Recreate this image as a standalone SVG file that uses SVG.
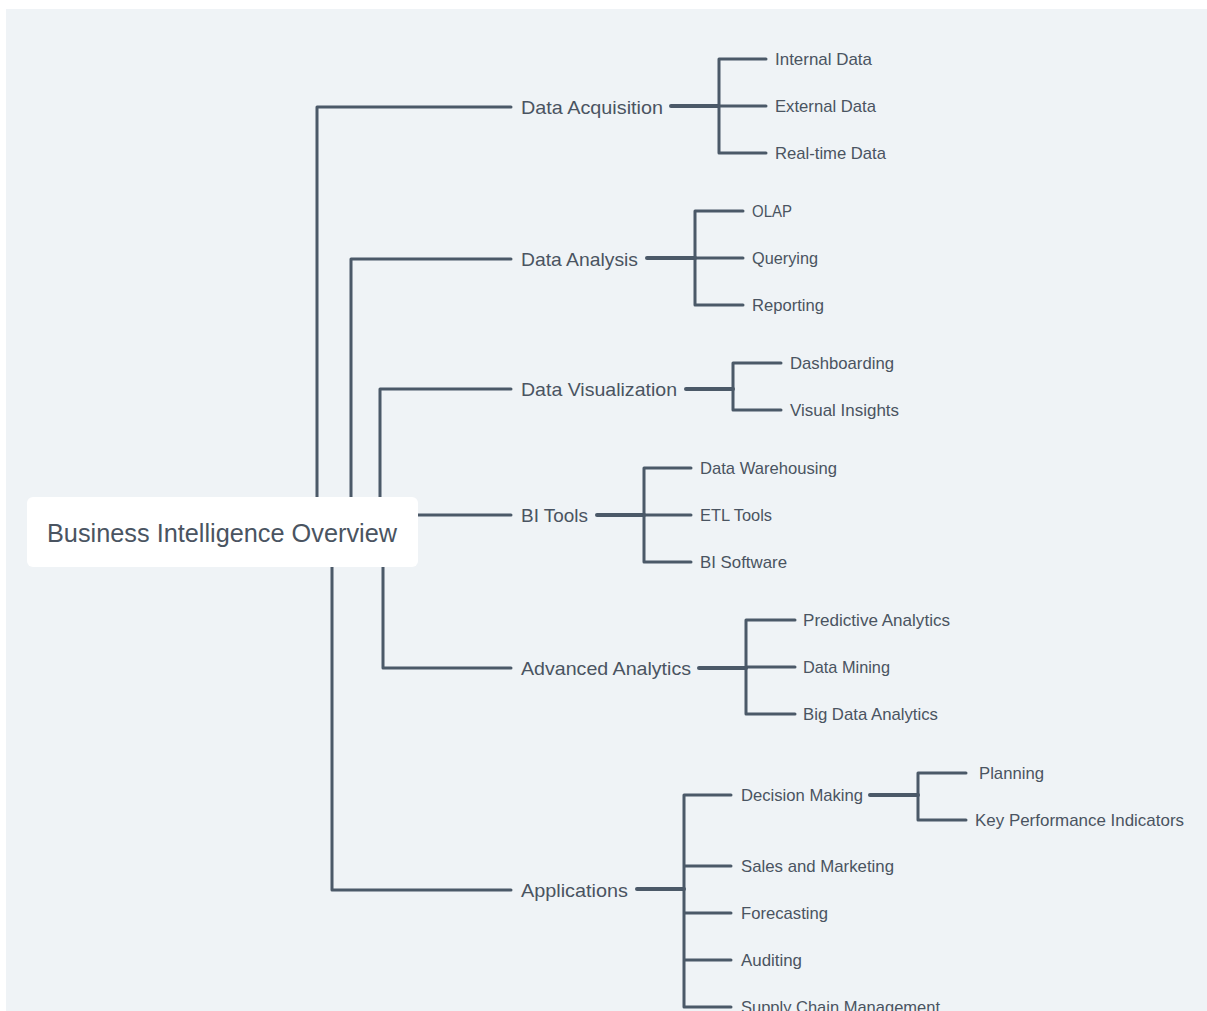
<svg xmlns="http://www.w3.org/2000/svg" width="1207" height="1011" viewBox="0 0 1207 1011">
<style>
.ln{fill:none;stroke:#4b5968;stroke-width:3;stroke-linejoin:round;stroke-linecap:round}
.tk{fill:none;stroke:#4b5968;stroke-width:4;stroke-linecap:round}
text{font-family:"Liberation Sans",Arial,sans-serif;fill:#4a5461}
.root{font-size:25px}
.main{font-size:19px}
.leaf{font-size:17px}
</style>
<rect x="0" y="0" width="1207" height="1011" fill="#ffffff"/>
<rect x="6" y="9" width="1201" height="1002" fill="#eff3f6"/>
<g id="connectors">
<path class="ln" d="M317,497 V107 H511"/>
<path class="ln" d="M351,497 V259 H511"/>
<path class="ln" d="M380,497 V389 H511"/>
<path class="ln" d="M418,515 H511"/>
<path class="ln" d="M383,567 V668 H511"/>
<path class="ln" d="M332,567 V890 H511"/>
<path class="tk" d="M671,106 H718"/>
<path class="ln" d="M766,59 H719 V153 H766 M719,106 H766"/>
<path class="tk" d="M647,258 H695"/>
<path class="ln" d="M743,211 H695 V305 H743 M695,258 H743"/>
<path class="tk" d="M686,389 H733"/>
<path class="ln" d="M781,363 H733 V410 H781"/>
<path class="tk" d="M597,515 H644"/>
<path class="ln" d="M691,468 H644 V562 H691 M644,515 H691"/>
<path class="tk" d="M699,668 H746"/>
<path class="ln" d="M795,620 H746 V714 H795 M746,667 H795"/>
<path class="tk" d="M637,889 H684"/>
<path class="ln" d="M731,795 H684 V1007 H731 M684,866 H731 M684,913 H731 M684,960 H731"/>
<path class="tk" d="M870,795 H918"/>
<path class="ln" d="M966,773 H918 V820 H966"/>
</g>
<g id="root">
<rect x="27" y="497" width="391" height="70" rx="6" fill="#ffffff"/>
<text class="root" x="47" y="542" textLength="350" lengthAdjust="spacingAndGlyphs">Business Intelligence Overview</text>
</g>
<g id="data-acquisition">
<text class="main" x="521" y="114" textLength="142" lengthAdjust="spacingAndGlyphs">Data Acquisition</text>
</g>
<g id="internal-data"><text class="leaf" x="775" y="65" textLength="97" lengthAdjust="spacingAndGlyphs">Internal Data</text></g>
<g id="external-data"><text class="leaf" x="775" y="112" textLength="101" lengthAdjust="spacingAndGlyphs">External Data</text></g>
<g id="real-time-data"><text class="leaf" x="775" y="159" textLength="111" lengthAdjust="spacingAndGlyphs">Real-time Data</text></g>
<g id="data-analysis">
<text class="main" x="521" y="266" textLength="117" lengthAdjust="spacingAndGlyphs">Data Analysis</text>
</g>
<g id="olap"><text class="leaf" x="752" y="217" textLength="40" lengthAdjust="spacingAndGlyphs">OLAP</text></g>
<g id="querying"><text class="leaf" x="752" y="264" textLength="66" lengthAdjust="spacingAndGlyphs">Querying</text></g>
<g id="reporting"><text class="leaf" x="752" y="311" textLength="72" lengthAdjust="spacingAndGlyphs">Reporting</text></g>
<g id="data-visualization">
<text class="main" x="521" y="396" textLength="156" lengthAdjust="spacingAndGlyphs">Data Visualization</text>
</g>
<g id="dashboarding"><text class="leaf" x="790" y="369" textLength="104" lengthAdjust="spacingAndGlyphs">Dashboarding</text></g>
<g id="visual-insights"><text class="leaf" x="790" y="416" textLength="109" lengthAdjust="spacingAndGlyphs">Visual Insights</text></g>
<g id="bi-tools">
<text class="main" x="521" y="522" textLength="67" lengthAdjust="spacingAndGlyphs">BI Tools</text>
</g>
<g id="data-warehousing"><text class="leaf" x="700" y="474" textLength="137" lengthAdjust="spacingAndGlyphs">Data Warehousing</text></g>
<g id="etl-tools"><text class="leaf" x="700" y="521" textLength="72" lengthAdjust="spacingAndGlyphs">ETL Tools</text></g>
<g id="bi-software"><text class="leaf" x="700" y="568" textLength="87" lengthAdjust="spacingAndGlyphs">BI Software</text></g>
<g id="advanced-analytics">
<text class="main" x="521" y="675" textLength="170" lengthAdjust="spacingAndGlyphs">Advanced Analytics</text>
</g>
<g id="predictive-analytics"><text class="leaf" x="803" y="626" textLength="147" lengthAdjust="spacingAndGlyphs">Predictive Analytics</text></g>
<g id="data-mining"><text class="leaf" x="803" y="673" textLength="87" lengthAdjust="spacingAndGlyphs">Data Mining</text></g>
<g id="big-data-analytics"><text class="leaf" x="803" y="720" textLength="135" lengthAdjust="spacingAndGlyphs">Big Data Analytics</text></g>
<g id="applications">
<text class="main" x="521" y="897" textLength="107" lengthAdjust="spacingAndGlyphs">Applications</text>
</g>
<g id="decision-making"><text class="leaf" x="741" y="801" textLength="122" lengthAdjust="spacingAndGlyphs">Decision Making</text></g>
<g id="planning"><text class="leaf" x="979" y="779" textLength="65" lengthAdjust="spacingAndGlyphs">Planning</text></g>
<g id="kpi"><text class="leaf" x="975" y="826" textLength="209" lengthAdjust="spacingAndGlyphs">Key Performance Indicators</text></g>
<g id="sales-and-marketing"><text class="leaf" x="741" y="872" textLength="153" lengthAdjust="spacingAndGlyphs">Sales and Marketing</text></g>
<g id="forecasting"><text class="leaf" x="741" y="919" textLength="87" lengthAdjust="spacingAndGlyphs">Forecasting</text></g>
<g id="auditing"><text class="leaf" x="741" y="966" textLength="61" lengthAdjust="spacingAndGlyphs">Auditing</text></g>
<g id="supply-chain-management"><text class="leaf" x="741" y="1013" textLength="199" lengthAdjust="spacingAndGlyphs">Supply Chain Management</text></g>
</svg>
